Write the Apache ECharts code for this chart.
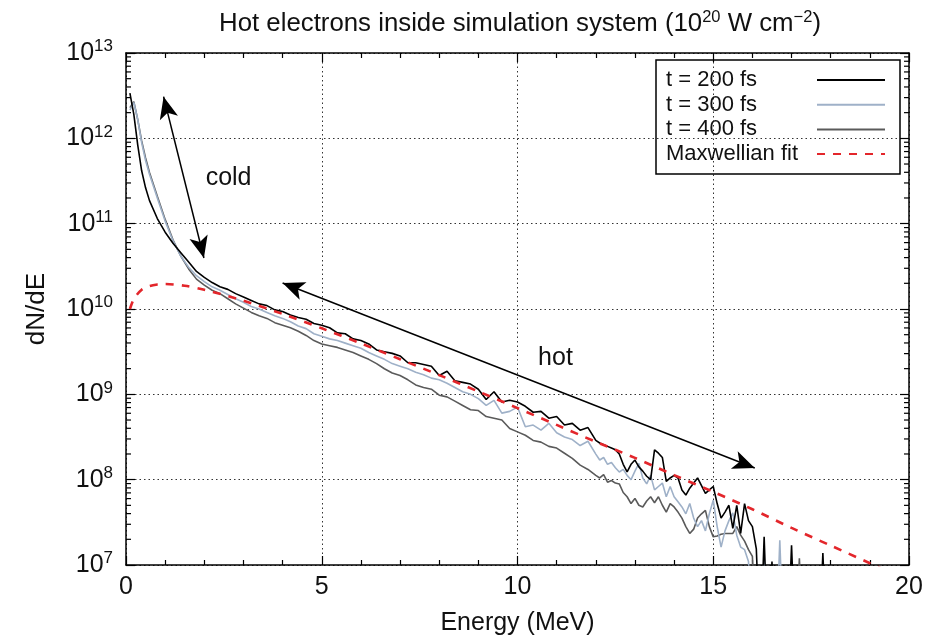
<!DOCTYPE html>
<html>
<head>
<meta charset="utf-8">
<script src="https://cdn.jsdelivr.net/npm/echarts@6/dist/echarts.min.js"></script>
<style>
  html, body { margin: 0; padding: 0; background: #fff; }
  #chart { width: 935px; height: 637px; }
</style>
</head>
<body>
<div id="chart"></div>
<script>
// Energy bins (MeV): finer binning in the high-energy tail
const energy = [
  0.1, 0.2, 0.3, 0.4, 0.5, 0.6, 0.8, 1.0, 1.2, 1.4, 1.6, 1.8,
  2.0, 2.2, 2.4, 2.6, 2.8, 3.0, 3.2, 3.4, 3.6, 3.8,
  4.0, 4.2, 4.4, 4.6, 4.8, 5.0, 5.2, 5.4, 5.6, 5.8,
  6.0, 6.2, 6.4, 6.6, 6.8, 7.0, 7.2, 7.4, 7.6, 7.8,
  8.0, 8.2, 8.4, 8.6, 8.8, 9.0, 9.2, 9.4, 9.6, 9.8,
  10.0, 10.2, 10.4, 10.6, 10.8, 11.0, 11.2, 11.4, 11.6, 11.8,
  12.0, 12.1, 12.2, 12.3, 12.4, 12.5, 12.6, 12.7, 12.8, 12.9,
  13.0, 13.1, 13.2, 13.3, 13.4, 13.5, 13.6, 13.7, 13.8, 13.9,
  14.0, 14.1, 14.2, 14.3, 14.4, 14.5, 14.6, 14.7, 14.8, 14.9,
  15.0, 15.1, 15.2, 15.3, 15.4, 15.5, 15.6, 15.7, 15.8, 15.9,
  16.0, 16.1, 16.2, 16.3, 16.4, 16.5, 16.6, 16.7, 16.8, 16.9,
  17.0, 17.1, 17.2, 17.3, 17.4, 17.5, 17.6, 17.7, 17.8, 17.9,
  18.0
];

// log10(dN/dE) per bin; 6 marks an empty bin (below the plotted range)
const lg200 = [
  12.53, 12.28, 11.92, 11.62, 11.42, 11.27, 11.06, 10.90, 10.77, 10.66, 10.55, 10.44,
  10.37, 10.31, 10.26, 10.23, 10.18, 10.14, 10.10, 10.06, 10.04, 9.99,
  9.97, 9.93, 9.90, 9.88, 9.83, 9.81, 9.78, 9.72, 9.71, 9.65,
  9.63, 9.59, 9.52, 9.50, 9.48, 9.45, 9.37, 9.37, 9.35, 9.33,
  9.22, 9.27, 9.16, 9.14, 9.12, 9.06, 8.94, 9.03, 8.91, 8.93,
  8.91, 8.86, 8.79, 8.80, 8.72, 8.74, 8.64, 8.66, 8.58, 8.61,
  8.46, 8.43, 8.41, 8.39, 8.37, 8.35, 8.30, 8.18, 8.09, 8.18,
  8.23, 8.15, 8.10, 8.04, 8.00, 8.35, 8.31, 8.26, 7.98, 8.02,
  8.05, 8.02, 7.88, 7.82, 7.90, 7.96, 8.02, 7.93, 7.84, 7.88,
  7.92, 7.72, 7.55, 7.62, 7.70, 7.43, 7.70, 7.37, 7.72, 7.52,
  7.45, 7.19, 6, 7.33, 6, 7.04, 6, 6, 6, 6,
  7.23, 6, 6, 6, 6, 6, 6, 6, 7.14, 6,
  6
];

const lg300 = [
  12.33, 12.42, 12.22, 11.95, 11.74, 11.58, 11.30, 11.03, 10.80, 10.62, 10.49, 10.39,
  10.32, 10.26, 10.22, 10.17, 10.12, 10.08, 10.03, 10.00, 9.96, 9.92,
  9.89, 9.85, 9.80, 9.77, 9.71, 9.68, 9.65, 9.63, 9.60, 9.57,
  9.54, 9.49, 9.45, 9.41, 9.36, 9.33, 9.30, 9.26, 9.23, 9.19,
  9.17, 9.13, 9.08, 9.03, 9.00, 8.95, 8.87, 8.93, 8.78, 8.80,
  8.85, 8.62, 8.64, 8.58, 8.66, 8.55, 8.50, 8.47, 8.40, 8.45,
  8.30, 8.23, 8.26, 8.18, 8.20, 8.14, 8.09, 8.12, 8.05, 8.00,
  8.10, 8.19, 8.02, 7.95, 8.05, 7.88, 7.92, 7.96, 7.80, 7.92,
  7.80, 7.74, 7.68, 7.60, 7.72, 7.55, 7.45, 7.52, 7.40, 7.60,
  7.76, 7.45, 7.21, 7.40, 7.52, 7.61, 7.35, 7.21, 7.18, 7.04,
  6, 6, 6, 7.10, 6, 6, 6, 7.29, 6, 6,
  6, 6, 6, 6, 6, 6, 6, 6, 6, 6,
  6
];

const lg400 = [
  12.36, 12.43, 12.22, 11.97, 11.77, 11.60, 11.32, 11.05, 10.81, 10.62, 10.47, 10.35,
  10.28, 10.22, 10.18, 10.12, 10.06, 10.01, 9.96, 9.92, 9.89, 9.84,
  9.81, 9.78, 9.74, 9.69, 9.63, 9.59, 9.57, 9.55, 9.52, 9.49,
  9.45, 9.41, 9.36, 9.30, 9.25, 9.22, 9.17, 9.11, 9.08, 9.06,
  8.99, 8.97, 8.92, 8.87, 8.82, 8.81, 8.74, 8.72, 8.70, 8.60,
  8.56, 8.52, 8.46, 8.44, 8.39, 8.37, 8.31, 8.25, 8.17, 8.12,
  8.05, 8.02, 8.06, 7.97, 7.99, 7.96, 7.95, 7.85, 7.80, 7.72,
  7.78, 7.70, 7.68, 7.75, 7.80, 7.73, 7.80, 7.70, 7.62, 7.72,
  7.68, 7.62, 7.55, 7.45, 7.37, 7.42, 7.55, 7.60, 7.64, 7.45,
  7.33, 7.34, 7.36, 7.37, 7.37, 7.37, 7.45, 7.35, 7.28, 7.18,
  7.10, 6, 6, 6, 6, 6, 6, 6, 6, 6,
  6, 6, 7.08, 6, 6, 6, 6, 6, 6, 6,
  6
];

// Maxwellian fit curve
const fitEnergy = [0.1, 0.2, 0.4, 0.6, 0.8, 1.0, 1.5, 2, 3, 4, 5, 6, 7, 8, 9, 10,
  11, 12, 13, 14, 15, 16, 17, 18, 19, 19.5];
const fitValue = [1.0e10, 1.31e10, 1.68e10, 1.86e10, 1.94e10, 1.96e10, 1.87e10, 1.68e10,
  1.25e10, 8.75e9, 5.94e9, 3.95e9, 2.58e9, 1.68e9, 1.08e9, 6.9e8, 4.38e8, 2.78e8,
  1.8e8, 1.13e8, 7.2e7, 4.5e7, 2.72e7, 1.69e7, 1.05e7, 8.3e6];

// Annotation arrows (energy, dN/dE) and their labels
const coldArrow = [[0.96, 3.08e12], [1.99, 3.96e10]];
const hotArrow = [[4.0, 2.02e10], [16.06, 1.37e8]];
const notes = [
  { name: 'cold', coord: [2.62, 3.43e11] },
  { name: 'hot', coord: [10.97, 2.67e9] }
];

const xTicks = [0, 5, 10, 15, 20];
const decades = [7, 8, 9, 10, 11, 12, 13];
const legendNames = ['t = 200 fs', 't = 300 fs', 't = 400 fs', 'Maxwellian fit'];

const FONT = "'Liberation Sans', Arial, Helvetica, sans-serif";
const INK = '#111';

const toPairs = (logs) => energy.map((e, i) => [e, Math.pow(10, logs[i])]);

// log-decade minor tick positions (2..9 × 10^d)
const minorLog = [];
for (let d = decades[0]; d < decades[decades.length - 1]; d++) {
  for (let m = 2; m <= 9; m++) minorLog.push([0, m * Math.pow(10, d)]);
}

const chart = echarts.init(document.getElementById('chart'), null, { renderer: 'canvas' });

const xCommon = {
  type: 'value',
  min: xTicks[0],
  max: xTicks[xTicks.length - 1],
  interval: 5,
  axisLine: { show: true, onZero: false, lineStyle: { color: '#000', width: 1.5 } },
  axisTick: { show: true, inside: true, length: 9, lineStyle: { color: '#000', width: 1.2 } },
  minorTick: { show: true, splitNumber: 5, length: 5, lineStyle: { color: '#000', width: 1.2 } }
};

const yCommon = {
  type: 'log',
  logBase: 10,
  min: Math.pow(10, decades[0]),
  max: Math.pow(10, decades[decades.length - 1]),
  splitNumber: 6,
  axisLine: { show: true, onZero: false, lineStyle: { color: '#000', width: 1.5 } },
  axisTick: { show: true, inside: true, length: 9, lineStyle: { color: '#000', width: 1.2 } }
};

const gridDots = { show: true, lineStyle: { color: '#333', width: 1, type: [1.5, 3] } };

const option = {
  animation: false,
  backgroundColor: '#fff',
  title: {
    left: 214,
    top: 4,
    text: '{t|Hot electrons inside simulation system (10}{s|20}{t| W cm}{s|\u22122}{t|)}',
    textStyle: {
      fontWeight: 'normal',
      rich: {
        t: { fontSize: 25.8, fontFamily: FONT, fontWeight: 'normal', color: INK, lineHeight: 30 },
        s: { fontSize: 16.5, fontFamily: FONT, fontWeight: 'normal', color: INK, lineHeight: 16, verticalAlign: 'top' }
      }
    }
  },
  grid: { left: 126, right: 26, top: 53, bottom: 72, containLabel: false, outerBoundsMode: 'none' },
  legend: {
    orient: 'vertical',
    left: 656,
    top: 60,
    align: 'right',
    selectedMode: false,
    data: legendNames,
    itemWidth: 68,
    itemHeight: 14,
    itemGap: 2.7,
    padding: [9, 14, 9, 10],
    borderColor: '#000',
    borderWidth: 1.5,
    itemStyle: { color: 'rgba(0,0,0,0)', borderWidth: 0, opacity: 0 },
    formatter: (name) => '{a|' + name + '}',
    textStyle: {
      color: INK,
      rich: { a: { fontSize: 22, lineHeight: 22, width: 146, align: 'left', color: INK, fontFamily: FONT } }
    }
  },
  xAxis: [
    Object.assign({}, xCommon, {
      position: 'bottom',
      axisLabel: { fontSize: 25, color: INK, margin: 10, fontFamily: FONT },
      splitLine: gridDots,
      name: 'Energy (MeV)',
      nameLocation: 'middle',
      nameGap: 46,
      nameTextStyle: { fontSize: 25, color: INK, fontFamily: FONT }
    }),
    Object.assign({}, xCommon, {
      position: 'top',
      axisLabel: { show: false },
      splitLine: { show: false }
    })
  ],
  yAxis: [
    Object.assign({}, yCommon, {
      position: 'left',
      splitLine: gridDots,
      axisLabel: {
        margin: 13,
        formatter: (v) => '{b|10}{s|' + Math.round(Math.log10(v)) + '}',
        rich: {
          b: { fontSize: 25, fontFamily: FONT, color: INK, lineHeight: 30 },
          s: { fontSize: 17, fontFamily: FONT, color: INK, lineHeight: 16, verticalAlign: 'top' }
        }
      },
      name: 'dN/dE',
      nameLocation: 'middle',
      nameGap: 76,
      nameTextStyle: { fontSize: 26, color: INK, fontFamily: FONT }
    }),
    Object.assign({}, yCommon, {
      position: 'right',
      axisLabel: { show: false },
      splitLine: { show: false }
    })
  ],
  series: [
    {
      name: 't = 400 fs', type: 'line', data: toPairs(lg400),
      showSymbol: false, symbol: 'none', clip: true,
      lineStyle: { color: '#5a5a5a', width: 1.6 }, itemStyle: { color: '#5a5a5a' }
    },
    {
      name: 't = 300 fs', type: 'line', data: toPairs(lg300),
      showSymbol: false, symbol: 'none', clip: true,
      lineStyle: { color: '#9fb1c8', width: 1.6 }, itemStyle: { color: '#9fb1c8' }
    },
    {
      name: 't = 200 fs', type: 'line', data: toPairs(lg200),
      showSymbol: false, symbol: 'none', clip: true,
      lineStyle: { color: '#000', width: 1.6 }, itemStyle: { color: '#000' },
      markLine: {
        silent: true,
        symbol: ['arrow', 'arrow'],
        symbolSize: [14, 22],
        lineStyle: { color: '#000', width: 1.5, type: 'solid' },
        label: { show: false },
        emphasis: { disabled: true },
        data: [
          [{ coord: coldArrow[0] }, { coord: coldArrow[1] }],
          [{ coord: hotArrow[0] }, { coord: hotArrow[1] }]
        ]
      },
      markPoint: {
        silent: true,
        symbol: 'circle',
        symbolSize: 1,
        itemStyle: { color: 'rgba(0,0,0,0)' },
        label: { show: true, position: 'inside', formatter: (p) => p.name, fontSize: 25, color: INK, fontFamily: FONT },
        data: notes
      }
    },
    {
      name: 'Maxwellian fit', type: 'line', data: fitEnergy.map((e, i) => [e, fitValue[i]]),
      showSymbol: false, symbol: 'none', clip: true, smooth: 0.3,
      lineStyle: { color: '#e3262b', width: 2.6, type: [8, 8] }, itemStyle: { color: '#e3262b' }
    },
    {
      // logarithmic minor ticks on the left and right frame
      type: 'custom', silent: true, clip: false,
      data: minorLog,
      encode: { x: 0, y: 1 },
      renderItem: (params, api) => {
        const v = api.value(1);
        const l = api.coord([xTicks[0], v]);
        const r = api.coord([xTicks[xTicks.length - 1], v]);
        const st = { stroke: '#000', lineWidth: 1.2 };
        return {
          type: 'group',
          children: [
            { type: 'line', shape: { x1: l[0], y1: l[1], x2: l[0] + 5, y2: l[1] }, style: st },
            { type: 'line', shape: { x1: r[0], y1: r[1], x2: r[0] - 5, y2: r[1] }, style: st }
          ]
        };
      }
    }
  ]
};

chart.setOption(option);
</script>
</body>
</html>
